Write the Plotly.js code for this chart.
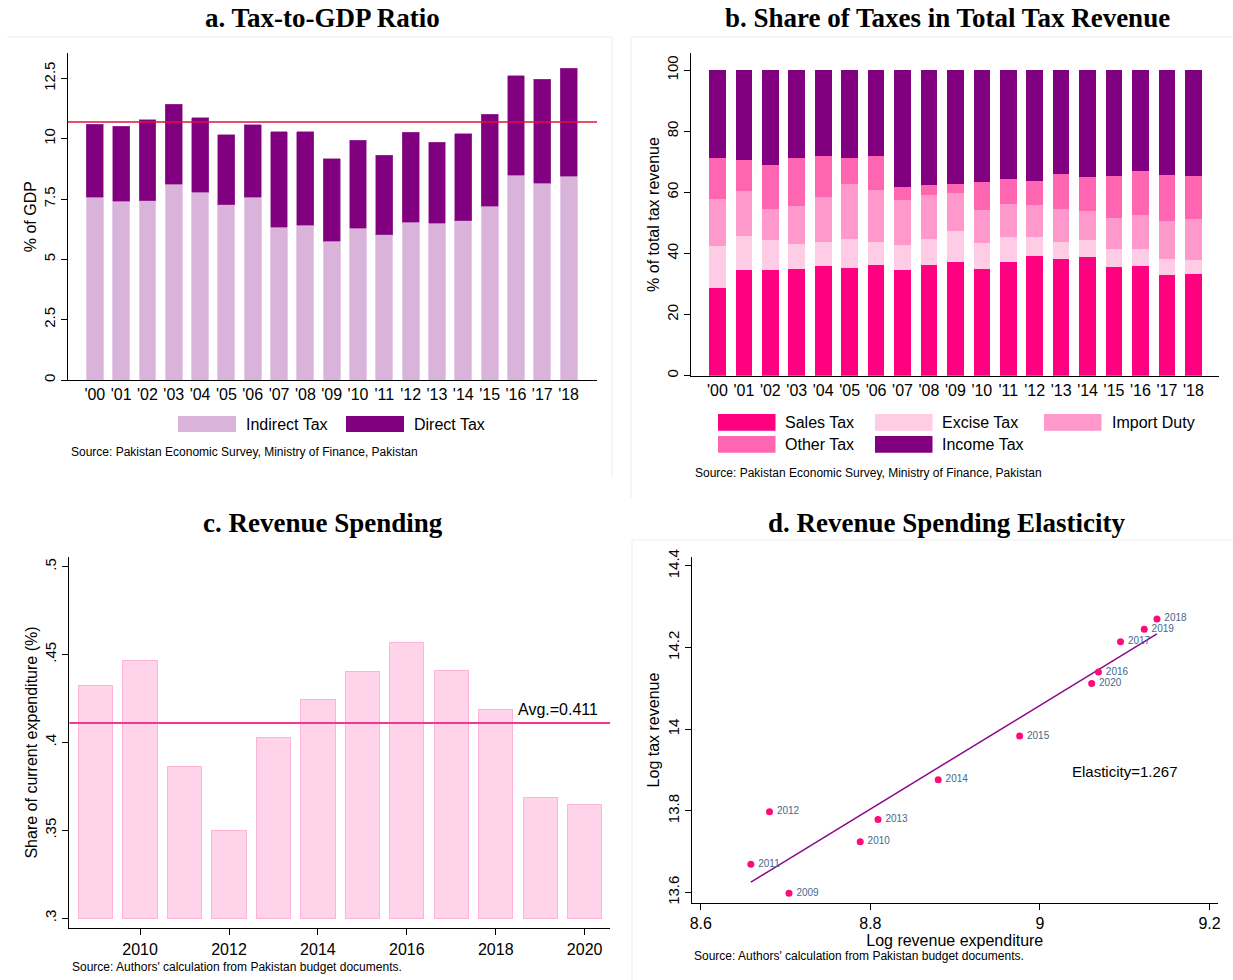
<!DOCTYPE html>
<html><head><meta charset="utf-8">
<script src="https://cdn.plot.ly/plotly-3.0.1.min.js"></script>
<style>html,body{margin:0;padding:0;background:#fff}</style>
</head><body><div id="chart" style="width:1233px;height:980px"></div>
<script>
// ---------- DATA ----------
const yearLabels = ["'00","'01","'02","'03","'04","'05","'06","'07","'08","'09","'10","'11","'12","'13","'14","'15","'16","'17","'18"];
// a. Tax-to-GDP (% of GDP)
const indirectTax = [7.57,7.40,7.42,8.12,7.78,7.27,7.58,6.34,6.42,5.75,6.29,6.01,6.53,6.49,6.59,7.20,8.48,8.16,8.45];
const directTax   = [3.04,3.11,3.37,3.30,3.08,2.90,2.99,3.94,3.86,3.41,3.64,3.31,3.73,3.37,3.62,3.82,4.13,4.30,4.48];
const seriesA = ["Indirect Tax","Direct Tax"];
// b. Share of taxes in total tax revenue (%)
const salesTax   = [28.6,34.6,34.6,34.8,35.9,35.4,36.3,34.6,36.3,37.3,34.8,37.1,39.1,38.1,38.7,35.7,35.9,33.0,33.2];
const exciseTax  = [13.8,11.1,9.8,8.3,7.8,9.2,7.4,8.1,8.3,10.0,8.6,8.2,6.2,5.6,5.7,5.7,5.4,5.2,4.6];
const importDuty = [15.3,14.7,10.1,12.4,14.9,18.0,17.2,14.9,14.5,12.5,10.8,10.9,10.6,10.7,9.4,10.2,11.2,12.4,13.6];
const otherTax   = [13.6,10.2,14.5,15.8,13.2,8.8,11.0,4.3,3.4,3.0,9.2,8.1,7.8,11.6,11.2,13.7,14.6,15.2,13.9];
const incomeTax  = [28.7,29.4,31.0,28.7,28.2,28.6,28.1,38.1,37.5,37.2,36.6,35.7,36.3,34.0,35.0,34.7,32.9,34.2,34.7];
const seriesB = ["Sales Tax","Excise Tax","Import Duty","Other Tax","Income Tax"];
// c. Revenue spending (share of current expenditure)
const spendYears = [2009,2010,2011,2012,2013,2014,2015,2016,2017,2018,2019,2020];
const spendShare = [0.4323,0.4464,0.3863,0.3497,0.4029,0.4245,0.4405,0.4570,0.4407,0.4189,0.3688,0.3650];
const spendBase = 0.3;
// d. Elasticity scatter
const elYears  = ["2018","2019","2017","2016","2020","2015","2014","2012","2013","2010","2011","2009"];
const logExp   = [9.138,9.123,9.095,9.069,9.061,8.976,8.880,8.681,8.809,8.788,8.659,8.704];
const logTax   = [14.270,14.245,14.214,14.140,14.112,13.983,13.876,13.798,13.779,13.724,13.669,13.598];
const elasticityLabel = "Elasticity=1.267";

// ---------- HELPERS ----------
const W = 1233, H = 980;
const fx = px => px / W;
const fy = py => 1 - py / H;
const SANS = 'Liberation Sans, Arial, sans-serif';
const SERIF = 'Liberation Serif, Times New Roman, serif';
const mean = a => a.reduce((s, v) => s + v, 0) / a.length;

const colA = {indirect:'#D9B3D9', direct:'#800080'};
const colB = ['#FF0080','#FFCCE5','#FF99CC','#FF66B2','#800080'];

const totalA = indirectTax.map((v, i) => v + directTax[i]);
const avgA = mean(totalA);
const avgC = mean(spendShare);

// OLS fit for panel d
const mx = mean(logExp), my = mean(logTax);
let sxy = 0, sxx = 0;
logExp.forEach((x, i) => { sxy += (x - mx) * (logTax[i] - my); sxx += (x - mx) * (x - mx); });
const slope = sxy / sxx, icpt = my - slope * mx;
const xMin = Math.min(...logExp), xMax = Math.max(...logExp);

// ---------- TRACES ----------
const traces = [];
traces.push({type:'bar', x:yearLabels, y:indirectTax, name:seriesA[0], width:0.64,
  marker:{color:colA.indirect, line:{color:'#E6CCE6', width:1}}, xaxis:'x', yaxis:'y', showlegend:false, hoverinfo:'skip'});
traces.push({type:'bar', x:yearLabels, y:directTax, name:seriesA[1], width:0.64,
  marker:{color:colA.direct, line:{color:'#9A3D9A', width:0.6}}, xaxis:'x', yaxis:'y', showlegend:false, hoverinfo:'skip'});

[salesTax, exciseTax, importDuty, otherTax, incomeTax].forEach((arr, k) => {
  traces.push({type:'bar', x:yearLabels, y:arr, name:seriesB[k], width:0.63,
    marker:{color:colB[k], line:{width:0}}, xaxis:'x2', yaxis:'y2', showlegend:false, hoverinfo:'skip'});
});

traces.push({type:'bar', x:spendYears, y:spendShare.map(v => v - spendBase), base:spendBase, width:0.77,
  marker:{color:'#FFD4EA', line:{color:'#FFB3D9', width:1}}, xaxis:'x3', yaxis:'y3', showlegend:false, hoverinfo:'skip'});

traces.push({type:'scatter', mode:'lines', x:[xMin, xMax], y:[icpt + slope * xMin, icpt + slope * xMax],
  line:{color:'#8B0A8B', width:1.5}, xaxis:'x4', yaxis:'y4', showlegend:false, hoverinfo:'skip'});
traces.push({type:'scatter', mode:'markers+text', x:logExp, y:logTax, text:elYears, texttemplate:'\u2009%{text}', textposition:'middle right',
  textfont:{family:SANS, size:10, color:'#46688C'},
  marker:{color:'#FF0A7A', size:7}, xaxis:'x4', yaxis:'y4', showlegend:false, hoverinfo:'skip'});

// ---------- AXES ----------
const axBase = {showline:true, linecolor:'#000', linewidth:1, showgrid:false, zeroline:false,
  ticks:'outside', ticklen:6, tickcolor:'#000', tickwidth:1,
  tickfont:{family:SANS, size:16, color:'#000'}, fixedrange:true};
const yTickFont = {family:SANS, size:15, color:'#000'};
const titleFont = {family:SANS, size:16, color:'#000'};

const layout = {
  width:W, height:H, margin:{l:0, r:0, t:0, b:0}, paper_bgcolor:'#fff', plot_bgcolor:'rgba(0,0,0,0)',
  barmode:'stack', showlegend:false,
  xaxis: Object.assign({}, axBase, {domain:[fx(67.7), fx(597)], anchor:'y', type:'category', range:[-1.03, 19.08], ticks:''}),
  yaxis: Object.assign({}, axBase, {domain:[fy(380), fy(53.3)], anchor:'x', range:[0, 13.54], tick0:0, dtick:2.5, tickangle:-90,
    tickfont:yTickFont, title:{text:'% of GDP', font:titleFont, standoff:0}}),
  xaxis2: Object.assign({}, axBase, {domain:[fx(691), fx(1219)], anchor:'y2', type:'category', range:[-1.0, 18.97], ticks:''}),
  yaxis2: Object.assign({}, axBase, {domain:[fy(375.7), fy(53.3)], anchor:'x2', range:[0, 105.5], tick0:0, dtick:20, tickangle:-90,
    tickfont:yTickFont, title:{text:'% of total tax revenue', font:titleFont, standoff:0}}),
  xaxis3: Object.assign({}, axBase, {domain:[fx(69.4), fx(610)], anchor:'y3', range:[2008.41, 2020.57], tickvals:[2010,2012,2014,2016,2018,2020]}),
  yaxis3: Object.assign({}, axBase, {domain:[fy(928.3), fy(556.7)], anchor:'x3', range:[0.2943, 0.5057],
    tickvals:[0.3,0.35,0.4,0.45,0.5], ticktext:['.3','.35','.4','.45','.5'], tickangle:-90,
    tickfont:yTickFont, title:{text:'Share of current expenditure (%)', font:titleFont, standoff:0}}),
  xaxis4: Object.assign({}, axBase, {domain:[fx(691.5), fx(1218)], anchor:'y4', range:[8.589, 9.210], tickvals:[8.6,8.8,9,9.2], ticktext:['8.6','8.8','9','9.2'],
    title:{text:'Log revenue expenditure', font:titleFont, standoff:0}}),
  yaxis4: Object.assign({}, axBase, {domain:[fy(902.7), fy(557.3)], anchor:'x4', range:[13.575, 14.421],
    tickvals:[13.6,13.8,14,14.2,14.4], ticktext:['13.6','13.8','14','14.2','14.4'], tickangle:-90,
    tickfont:yTickFont, title:{text:'Log tax revenue', font:titleFont, standoff:0}}),
  shapes: [],
  annotations: []
};

// panel frames (very light)
const frameLine = {color:'#EDEDED', width:1};
[[7,37,612,37],[612,37,612,477],[631,37,1233,37],[631,37,631,498],[632,540,1233,540],[632,540,632,980]].forEach(s => {
  layout.shapes.push({type:'line', xref:'paper', yref:'paper', x0:fx(s[0]), y0:fy(s[1]), x1:fx(s[2]), y1:fy(s[3]), line:frameLine, layer:'below'});
});
// reference lines
layout.shapes.push({type:'line', xref:'x domain', yref:'y', x0:0, x1:1, y0:avgA, y1:avgA, line:{color:'#DC143C', width:1.5}});
layout.shapes.push({type:'line', xref:'x3 domain', yref:'y3', x0:0, x1:1, y0:avgC, y1:avgC, line:{color:'#F0398F', width:2}});

// legend swatches (paper coordinates)
function swatch(x0, y0, x1, y1, color) {
  layout.shapes.push({type:'rect', xref:'paper', yref:'paper', x0:fx(x0), x1:fx(x1), y0:fy(y1), y1:fy(y0), fillcolor:color, line:{width:0}});
}
function text(x, y, str, opts) {
  layout.annotations.push(Object.assign({xref:'paper', yref:'paper', x:fx(x), y:fy(y), text:str, showarrow:false,
    xanchor:'left', yanchor:'middle', font:{family:SANS, size:16, color:'#000'}}, opts || {}));
}
// panel a legend
swatch(178, 416, 236, 432, colA.indirect); text(244, 424.5, seriesA[0]);
swatch(346, 416, 404, 432, colA.direct);   text(412, 424.5, seriesA[1]);
// panel b legend
const legB = [[718,414,783],[875,414,940],[1044,414,1110],[718,436,783],[875,436,940]];
legB.forEach((p, k) => { swatch(p[0], p[1], p[0] + 57.5, p[1] + 16.7, colB[k]); text(p[2], p[1] + 8.5, seriesB[k]); });

// titles
const tFont = {family:SERIF, size:27, color:'#000'};
text(323, 18, '<b>a. Tax-to-GDP Ratio</b>', {xanchor:'center', font:tFont});
text(947, 18, '<b>b. Share of Taxes in Total Tax Revenue</b>', {xanchor:'center', font:tFont});
text(323, 523, '<b>c. Revenue Spending</b>', {xanchor:'center', font:tFont});
text(947, 523, '<b>d. Revenue Spending Elasticity</b>', {xanchor:'center', font:tFont});
// sources
const sFont = {family:SANS, size:12, color:'#000'};
text(69, 452, 'Source: Pakistan Economic Survey, Ministry of Finance, Pakistan', {font:sFont});
text(693, 473, 'Source: Pakistan Economic Survey, Ministry of Finance, Pakistan', {font:sFont});
text(70, 967, "Source: Authors' calculation from Pakistan budget documents.", {font:sFont});
text(692, 956, "Source: Authors' calculation from Pakistan budget documents.", {font:sFont});
// in-plot labels
layout.annotations.push({xref:'x3 domain', yref:'y3', x:0.982, y:avgC, yshift:3, xanchor:'right', yanchor:'bottom',
  text:'Avg.=' + avgC.toFixed(3), showarrow:false, font:{family:SANS, size:16, color:'#000'}});
layout.annotations.push({xref:'x4 domain', yref:'y4 domain', x:0.822, y:0.379, xanchor:'center', yanchor:'middle',
  text:elasticityLabel, showarrow:false, font:{family:SANS, size:15, color:'#000'}});

Plotly.newPlot('chart', traces, layout, {staticPlot:true, displayModeBar:false});
</script>
</body></html>
